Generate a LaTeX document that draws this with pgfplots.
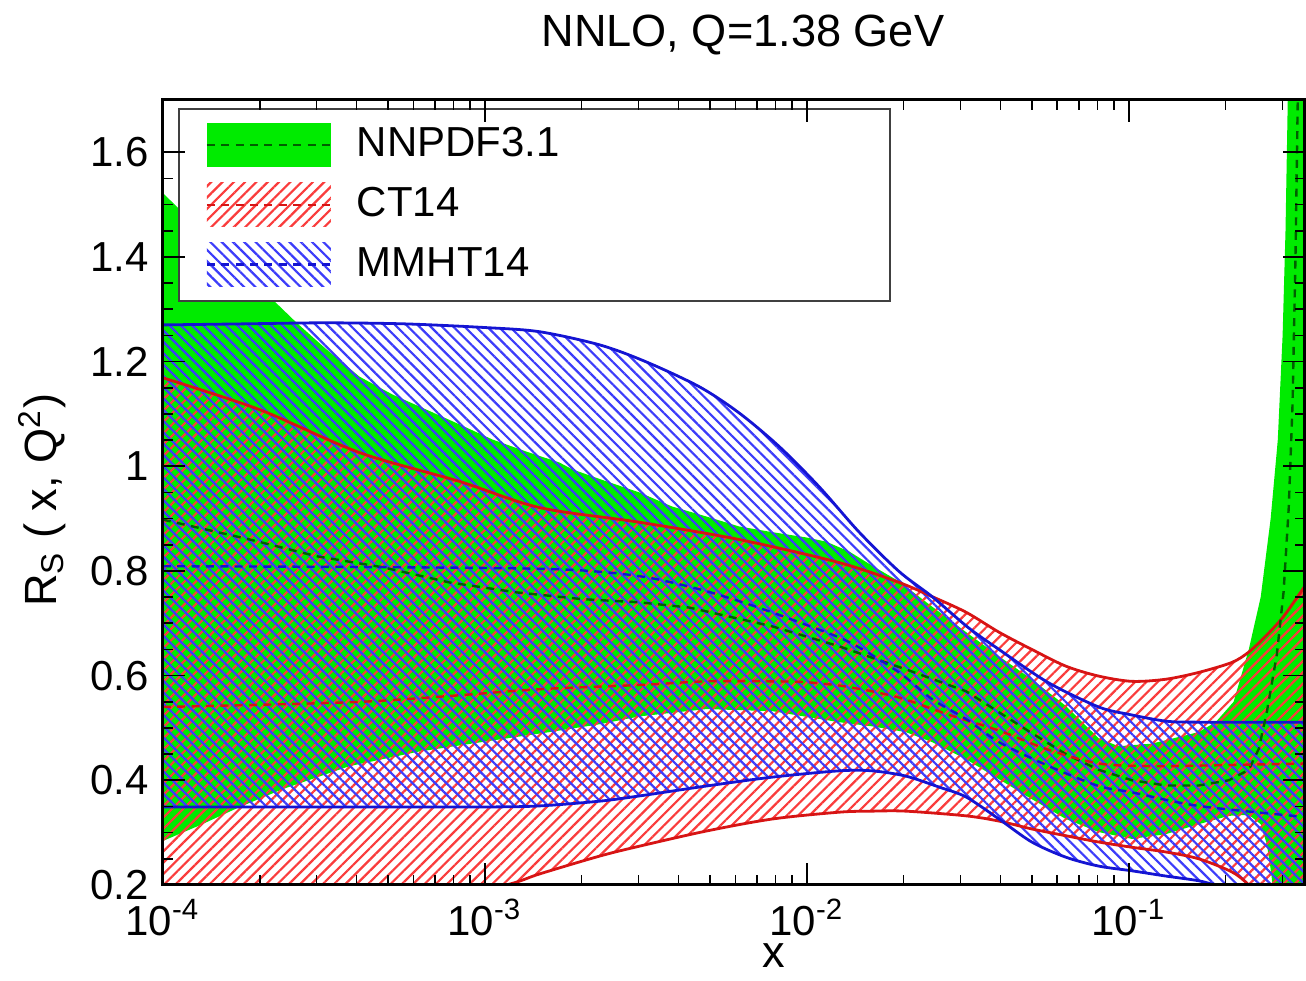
\documentclass[border=0pt]{standalone}
\usepackage{fontspec}
\setmainfont{Liberation Sans}
\usepackage{pgfplots}
\pgfplotsset{compat=1.18}
\usepgfplotslibrary{fillbetween}
\usetikzlibrary{patterns.meta}

\definecolor{nngreen}{RGB}{0,235,0}
\definecolor{nndark}{RGB}{0,95,0}
\definecolor{ctline}{RGB}{215,20,20}
\definecolor{cthatch}{RGB}{250,60,60}
\definecolor{mmline}{RGB}{20,20,210}
\definecolor{mmhatch}{RGB}{60,60,250}

\tikzset{
  ctpat/.style={pattern={Lines[angle=45,distance=2pt,line width=0.55pt]}, pattern color=cthatch, fill opacity=0.7},
  mmpat/.style={pattern={Lines[angle=-45,distance=2pt,line width=0.55pt]}, pattern color=mmhatch, fill opacity=0.7},
  cdash/.style={line width=0.6pt, dash pattern=on 2pt off 1.6pt},
}

\begin{document}
\begin{tikzpicture}
\begin{axis}[
  name=ax,
  scale only axis,
  width=285.75pt, height=196.5pt,
  xmode=log,
  xmin=1e-4, xmax=0.3516,
  ymin=0.2, ymax=1.7,
  axis on top,
  axis line style={line width=0.75pt},
  tick style={line width=0.4pt, black},
  major tick length=5.5pt,
  minor tick length=2.5pt,
  xtick={1e-4,1e-3,1e-2,1e-1},
  xticklabels={10\textsuperscript{-4},10\textsuperscript{-3},10\textsuperscript{-2},10\textsuperscript{-1}},
  minor xtick={2e-4,3e-4,4e-4,5e-4,6e-4,7e-4,8e-4,9e-4,2e-3,3e-3,4e-3,5e-3,6e-3,7e-3,8e-3,9e-3,2e-2,3e-2,4e-2,5e-2,6e-2,7e-2,8e-2,9e-2,2e-1,3e-1},
  ytick={0.2,0.4,0.6,0.8,1,1.2,1.4,1.6},
  minor y tick num=3,
  /pgf/number format/assume math mode=true,
  ticklabel style={font=\fontsize{10.5}{12}\selectfont},
  every axis title shift=0pt,
  title={NNLO, Q=1.38 GeV},
  title style={at={(axis description cs:0.508,1.083)}, anchor=center, font=\fontsize{11.3}{13}\selectfont},
  xlabel={x},
  every axis x label/.style={at={(axis description cs:0.535,-0.090)}, anchor=center, font=\fontsize{11.3}{13}\selectfont},
  ylabel={R\textsubscript{S} ( x, Q\textsuperscript{2})},
  every axis y label/.style={at={(axis description cs:-0.106,0.49)}, rotate=90, anchor=center, font=\fontsize{11.3}{13}\selectfont},
  legend cell align=left,
  legend style={at={(rel axis cs:0.0131,0.9898)}, anchor=north west, draw=black!75, line width=0.5pt,
    inner xsep=6.75pt, inner ysep=1.5pt, row sep=0pt, column sep=0pt,
    nodes={inner xsep=6.25pt, inner ysep=0pt, text width=120.5pt, font=\fontsize{10.5}{12}\selectfont}},
]

% legend images
\addlegendimage{legend image code/.code={
  \path[draw=none,fill=none] (0pt,-7.5pt) rectangle (31pt,7.5pt);
  \fill[nngreen, draw=none] (0pt,-5.5pt) rectangle (31pt,5.5pt);
  \draw[nndark, cdash] (0pt,0pt) -- (31pt,0pt);}}
\addlegendentry{NNPDF3.1}
\addlegendimage{legend image code/.code={
  \path[draw=none,fill=none] (0pt,-7.5pt) rectangle (31pt,7.5pt);
  \path[ctpat, draw=none] (0pt,-5.5pt) rectangle (31pt,5.5pt);
  \draw[ctline, cdash] (0pt,0pt) -- (31pt,0pt);}}
\addlegendentry{CT14}
\addlegendimage{legend image code/.code={
  \path[draw=none,fill=none] (0pt,-7.5pt) rectangle (31pt,7.5pt);
  \path[mmpat, draw=none] (0pt,-5.5pt) rectangle (31pt,5.5pt);
  \draw[mmline, cdash] (0pt,0pt) -- (31pt,0pt);}}
\addlegendentry{MMHT14}

% NNPDF3.1 band
\addplot[draw=none, name path=nnup, forget plot] coordinates {
(1e-4,1.522)(1.734e-4,1.379)(2.605e-4,1.274)(3.227e-4,1.223)(4.086e-4,1.171)(5.17e-4,1.137)
(6.594e-4,1.108)(8.34e-4,1.080)(1.057e-3,1.051)(1.346e-3,1.028)(1.707e-3,1.007)(1.871e-3,0.994)
(2.389e-3,0.971)(3.02e-3,0.950)(3.82e-3,0.923)(4.877e-3,0.904)(6.16e-3,0.885)(7.82e-3,0.874)
(9.95e-3,0.864)(1.148e-2,0.856)(1.355e-2,0.837)(1.596e-2,0.810)(1.935e-2,0.780)(2.449e-2,0.732)
(3.126e-2,0.683)(3.953e-2,0.637)(5.0e-2,0.593)(6.38e-2,0.542)(8.07e-2,0.480)(9.3e-2,0.465)
(0.118,0.470)(0.1648,0.492)(0.1862,0.511)(0.2118,0.55)(0.236,0.65)(0.257,0.75)(0.276,0.90)
(0.2904,1.05)(0.3006,1.25)(0.3069,1.45)(0.3119,1.7)(0.3184,2.0)(0.3516,3.0)};
\addplot[draw=none, name path=nnlo, forget plot] coordinates {
(1e-4,0.284)(1.303e-4,0.314)(1.734e-4,0.349)(2.356e-4,0.383)(3.804e-4,0.427)(6.14e-4,0.454)
(9.8e-4,0.473)(1.588e-3,0.492)(2.27e-3,0.507)(3.02e-3,0.522)(4.877e-3,0.536)(7.82e-3,0.532)
(1.259e-2,0.511)(1.596e-2,0.503)(2.03e-2,0.492)(2.449e-2,0.473)(3.126e-2,0.440)(3.953e-2,0.402)
(5.0e-2,0.364)(6.38e-2,0.326)(8.07e-2,0.301)(0.1023,0.288)(0.1303,0.297)(0.1648,0.316)
(0.2046,0.332)(0.236,0.334)(0.257,0.316)(0.2685,0.278)(0.276,0.23)(0.2839,0.17)(0.3027,0.05)(0.3516,0.0)};
\addplot[fill=nngreen, draw=none, forget plot] fill between[of=nnup and nnlo];

% CT14 band
\addplot[ctline, line width=0.7pt, smooth, name path=ctup, forget plot] coordinates {
(1e-4,1.169)(2.0e-4,1.108)(4.086e-4,1.026)(8.34e-4,0.971)(1.479e-3,0.921)(3.02e-3,0.893)
(6.16e-3,0.860)(1.259e-2,0.816)(1.935e-2,0.778)(2.449e-2,0.751)(3.126e-2,0.721)(3.953e-2,0.683)
(5.0e-2,0.650)(6.38e-2,0.618)(8.07e-2,0.599)(0.1023,0.589)(0.1303,0.593)(0.1648,0.606)
(0.2089,0.625)(0.236,0.645)(0.266,0.675)(0.3027,0.713)(0.3516,0.770)};
\addplot[ctline, line width=0.7pt, smooth, name path=ctlo, forget plot] coordinates {
(1e-4,0.05)(3.158e-4,0.12)(6.27e-4,0.165)(1.167e-3,0.2)(1.479e-3,0.221)(2.27e-3,0.255)
(3.02e-3,0.274)(4.877e-3,0.303)(7.82e-3,0.326)(1.259e-2,0.339)(1.596e-2,0.341)(2.03e-2,0.341)
(3.126e-2,0.332)(3.953e-2,0.322)(5.0e-2,0.307)(6.38e-2,0.294)(8.07e-2,0.282)(0.1023,0.272)
(0.1303,0.263)(0.1648,0.250)(0.2089,0.225)(0.236,0.2)(0.2723,0.16)(0.3516,0.10)};
\addplot[ctpat, draw=none, forget plot] fill between[of=ctup and ctlo];

% MMHT14 band
\addplot[mmline, line width=0.7pt, smooth, name path=mmup, forget plot] coordinates {
(1e-4,1.270)(1.783e-4,1.272)(3.158e-4,1.274)(5.636e-4,1.272)(1.0e-3,1.265)(1.479e-3,1.257)
(2.27e-3,1.232)(3.155e-3,1.200)(4.634e-3,1.152)(6.16e-3,1.102)(8.2e-3,1.038)(1.092e-2,0.961)
(1.455e-2,0.874)(1.935e-2,0.799)(2.449e-2,0.751)(3.17e-2,0.692)(3.953e-2,0.650)(5.61e-2,0.587)
(8.07e-2,0.540)(0.1,0.526)(0.1303,0.513)(0.1648,0.511)(0.3516,0.511)};
\addplot[mmline, line width=0.7pt, smooth, name path=mmlo, forget plot] coordinates {
(1e-4,0.349)(3.158e-4,0.349)(1.0e-3,0.349)(1.479e-3,0.351)(2.27e-3,0.360)(3.02e-3,0.370)
(4.877e-3,0.389)(7.82e-3,0.406)(1.259e-2,0.418)(1.596e-2,0.418)(2.03e-2,0.408)(2.576e-2,0.387)
(3.126e-2,0.368)(3.953e-2,0.326)(5.0e-2,0.282)(6.38e-2,0.253)(8.07e-2,0.236)(0.1023,0.227)
(0.1303,0.217)(0.1648,0.208)(0.1905,0.198)(0.2535,0.18)(0.3516,0.16)};
\addplot[mmpat, draw=none, forget plot] fill between[of=mmup and mmlo];

% central values
\addplot[nndark, cdash, forget plot] coordinates {
(1e-4,0.898)(1.862e-4,0.860)(3.005e-4,0.828)(4.815e-4,0.807)(7.77e-4,0.778)(1.254e-3,0.759)
(2.01e-3,0.746)(3.02e-3,0.740)(4.315e-3,0.730)(7.82e-3,0.694)(1.259e-2,0.656)(2.03e-2,0.612)
(3.126e-2,0.57)(3.953e-2,0.53)(5.0e-2,0.49)(6.38e-2,0.45)(8.07e-2,0.42)(0.1023,0.40)
(0.1303,0.39)(0.1648,0.39)(0.2046,0.40)(0.236,0.42)(0.2535,0.46)(0.2685,0.53)(0.2884,0.64)
(0.3027,0.76)(0.314,0.92)(0.3228,1.12)(0.3296,1.4)(0.335,1.7)(0.3373,1.8)};
\addplot[ctline, cdash, smooth, forget plot] coordinates {
(1e-4,0.540)(3.804e-4,0.549)(7.77e-4,0.561)(1.479e-3,0.574)(3.02e-3,0.582)(4.877e-3,0.589)
(7.82e-3,0.589)(1.017e-2,0.587)(1.355e-2,0.578)(1.935e-2,0.558)(2.765e-2,0.525)(3.953e-2,0.495)
(5.65e-2,0.458)(8.07e-2,0.432)(0.1155,0.427)(0.1648,0.428)(0.3516,0.432)};
\addplot[mmline, cdash, smooth, forget plot] coordinates {
(1e-4,0.809)(5.44e-4,0.807)(1.707e-3,0.803)(3.02e-3,0.790)(4.634e-3,0.765)(6.62e-3,0.736)
(9.46e-3,0.702)(1.355e-2,0.664)(1.935e-2,0.606)(2.449e-2,0.555)(3.126e-2,0.517)(3.953e-2,0.473)
(5.65e-2,0.427)(8.07e-2,0.389)(0.1023,0.377)(0.1648,0.351)(0.3516,0.330)};

\end{axis}
\path ([xshift=-40.75pt,yshift=-20pt]ax.south west) rectangle ([yshift=25pt]ax.north east);
\end{tikzpicture}
\end{document}
